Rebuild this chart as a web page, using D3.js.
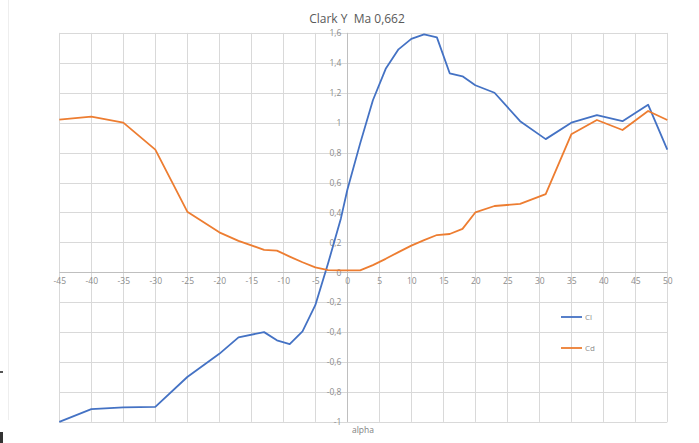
<!DOCTYPE html>
<html>
<head>
<meta charset="utf-8">
<script src="https://cdn.jsdelivr.net/npm/d3@7"></script>
<style>
  html, body { margin: 0; padding: 0; background: #fff; }
  svg { display: block; }
  text { font-family: "Open Sans", "Noto Sans", sans-serif; }
</style>
</head>
<body>
<svg id="chart" width="699" height="443"></svg>
<script>
// Clark Y airfoil polar at Ma 0.662: lift (Cl) and drag (Cd) vs angle of attack
const alpha = [-45, -40, -35, -30, -25, -20, -17, -13, -11, -9, -7, -5, -3, -1, 0, 2, 4, 6, 8, 10, 12, 14, 16, 18, 20, 23, 27, 31, 35, 39, 43, 47, 50];
const cl = [-1.0, -0.915, -0.903, -0.9, -0.70, -0.545, -0.435, -0.40, -0.455, -0.48, -0.395, -0.22, 0.06, 0.36, 0.55, 0.86, 1.15, 1.36, 1.49, 1.56, 1.59, 1.57, 1.33, 1.31, 1.25, 1.20, 1.01, 0.89, 1.0, 1.05, 1.01, 1.12, 0.82];
const cd = [1.02, 1.04, 1.0, 0.82, 0.405, 0.267, 0.21, 0.15, 0.145, 0.105, 0.067, 0.033, 0.015, 0.013, 0.013, 0.013, 0.048, 0.09, 0.135, 0.178, 0.215, 0.249, 0.256, 0.29, 0.40, 0.443, 0.457, 0.523, 0.922, 1.018, 0.951, 1.078, 1.018];
const xTicks = d3.range(-45, 51, 5);
const yTicks = d3.range(-10, 17, 2).map(v => v / 10);
const seriesNames = ["Cl", "Cd"];
const seriesColors = ["#4472c4", "#ed7d31"];
const chartTitle = "Clark Y  Ma 0,662";
const xTitle = "alpha";

const svg = d3.select("#chart");
const x = d3.scaleLinear().domain([-45, 50]).range([59.3, 667.3]);
const y = d3.scaleLinear().domain([-1, 1.6]).range([421.9, 32.9]);

const fmt = v => String(+v.toFixed(1)).replace(".", ",");

// frame artefacts at the left border
svg.append("line").attr("x1", 8.5).attr("x2", 8.5).attr("y1", 0).attr("y2", 420)
  .attr("stroke", "#eeeeee").attr("stroke-width", 1);
svg.append("rect").attr("x", 0).attr("y", 371).attr("width", 3).attr("height", 2).attr("fill", "#555");
svg.append("rect").attr("x", 0).attr("y", 432).attr("width", 3).attr("height", 11).attr("fill", "#333");

// grid
const grid = svg.append("g").attr("stroke", "#d9d9d9").attr("stroke-width", 1);
grid.selectAll("line.v").data(xTicks).join("line")
  .attr("x1", d => Math.round(x(d)) + 0.5).attr("x2", d => Math.round(x(d)) + 0.5)
  .attr("y1", y(1.6)).attr("y2", y(-1));
grid.selectAll("line.h").data(yTicks).join("line")
  .attr("y1", d => Math.round(y(d)) + 0.5).attr("y2", d => Math.round(y(d)) + 0.5)
  .attr("x1", x(-45)).attr("x2", x(50));

// zero axes
svg.append("line").attr("x1", x(-45)).attr("x2", x(50))
  .attr("y1", Math.round(y(0)) + 0.5).attr("y2", Math.round(y(0)) + 0.5)
  .attr("stroke", "#bfbfbf").attr("stroke-width", 1);
svg.append("line").attr("x1", Math.round(x(0)) + 0.5).attr("x2", Math.round(x(0)) + 0.5)
  .attr("y1", y(1.6)).attr("y2", y(-1))
  .attr("stroke", "#bfbfbf").attr("stroke-width", 1);

// tick labels through d3 axes, crossing at zero
const xAxis = svg.append("g").attr("transform", `translate(0,${y(0)})`)
  .call(d3.axisBottom(x).tickValues(xTicks).tickSize(0).tickPadding(6).tickFormat(fmt));
const yAxis = svg.append("g").attr("transform", `translate(${x(0)},0)`)
  .call(d3.axisLeft(y).tickValues(yTicks).tickSize(0).tickPadding(6).tickFormat(fmt));
[xAxis, yAxis].forEach(a => {
  a.select(".domain").remove();
  a.selectAll("text").attr("fill", "#8c8c8c").style("font-size", "8.5px")
    .style("font-family", "'Open Sans', sans-serif");
});

// series
const line = d3.line().x(d => x(d[0])).y(d => y(d[1]));
[cl, cd].forEach((vals, i) => {
  svg.append("path")
    .datum(alpha.map((a, k) => [a, vals[k]]))
    .attr("fill", "none")
    .attr("stroke", seriesColors[i])
    .attr("stroke-width", 1.8)
    .attr("stroke-linejoin", "round")
    .attr("d", line);
});

// title (double space kept)
svg.append("text").attr("x", 357).attr("y", 23).attr("text-anchor", "middle")
  .attr("fill", "#595959").style("font-size", "12px").style("white-space", "pre")
  .attr("xml:space", "preserve").text(chartTitle);

// axis title
svg.append("text").attr("x", 363).attr("y", 433).attr("text-anchor", "middle")
  .attr("fill", "#7f7f7f").style("font-size", "8.5px").text(xTitle);

// legend
const legend = svg.append("g");
seriesNames.forEach((name, i) => {
  const ly = 317 + i * 31;
  legend.append("line").attr("x1", 561).attr("x2", 582).attr("y1", ly).attr("y2", ly)
    .attr("stroke", seriesColors[i]).attr("stroke-width", 1.8);
  legend.append("text").attr("x", 585).attr("y", ly + 3).attr("fill", "#8c8c8c")
    .style("font-size", "8px").text(name);
});
</script>
</body>
</html>
